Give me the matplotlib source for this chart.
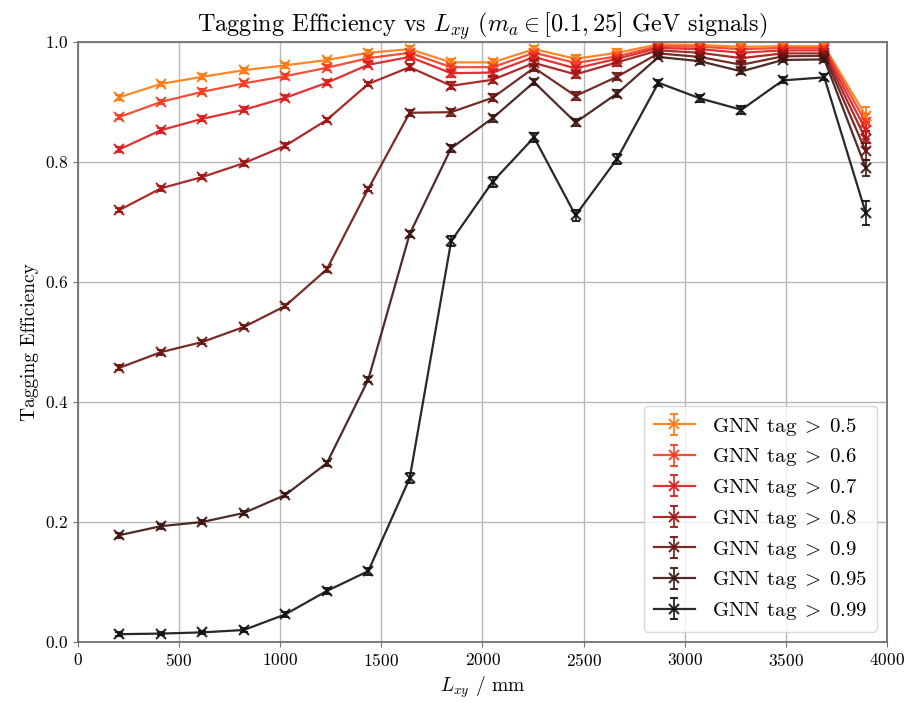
import numpy as np
import matplotlib
matplotlib.use('Agg')
import matplotlib.pyplot as plt

plt.rcParams['font.family'] = ['cmr10', 'DejaVu Serif']
plt.rcParams['mathtext.fontset'] = 'cm'
plt.rcParams['axes.formatter.use_mathtext'] = True

# ── data ────────────────────────────────────────────────────────────────────
lxy = [205, 410, 615, 820, 1025, 1230, 1435, 1640, 1845, 2050,
       2255, 2460, 2665, 2870, 3075, 3280, 3485, 3690, 3895]

cuts = ['0.5', '0.6', '0.7', '0.8', '0.9', '0.95', '0.99']
labels = [r'GNN tag$\;>\;$' + c for c in cuts]

eff_05  = [0.908, 0.930, 0.942, 0.953, 0.961, 0.970, 0.982, 0.988, 0.966, 0.966,
           0.988, 0.972, 0.982, 0.996, 0.995, 0.992, 0.993, 0.993, 0.877]
eff_06  = [0.875, 0.900, 0.917, 0.931, 0.943, 0.957, 0.973, 0.982, 0.958, 0.958,
           0.982, 0.965, 0.976, 0.993, 0.992, 0.988, 0.990, 0.990, 0.866]
eff_07  = [0.821, 0.853, 0.872, 0.887, 0.907, 0.932, 0.962, 0.975, 0.948, 0.949,
           0.975, 0.956, 0.972, 0.990, 0.988, 0.982, 0.986, 0.986, 0.853]
eff_08  = [0.720, 0.756, 0.775, 0.798, 0.827, 0.870, 0.930, 0.958, 0.927, 0.937,
           0.965, 0.946, 0.966, 0.986, 0.982, 0.973, 0.981, 0.981, 0.838]
eff_09  = [0.457, 0.483, 0.500, 0.525, 0.560, 0.621, 0.755, 0.882, 0.883, 0.907,
           0.957, 0.910, 0.942, 0.981, 0.975, 0.962, 0.976, 0.977, 0.818]
eff_095 = [0.178, 0.193, 0.200, 0.215, 0.245, 0.298, 0.437, 0.680, 0.823, 0.873,
           0.933, 0.866, 0.914, 0.975, 0.968, 0.951, 0.970, 0.971, 0.790]
eff_099 = [0.013, 0.014, 0.016, 0.020, 0.046, 0.085, 0.118, 0.273, 0.668, 0.767,
           0.841, 0.711, 0.805, 0.932, 0.906, 0.887, 0.936, 0.941, 0.715]

# statistical uncertainties (small everywhere except the last bin)
err_main = [0.004, 0.004, 0.004, 0.004, 0.004, 0.004, 0.004, 0.005, 0.006, 0.006,
            0.005, 0.006, 0.006, 0.004, 0.004, 0.005, 0.004, 0.004, 0.014]
err_tight = [0.003, 0.003, 0.003, 0.003, 0.004, 0.005, 0.006, 0.008, 0.008, 0.008,
             0.007, 0.009, 0.008, 0.005, 0.006, 0.007, 0.005, 0.005, 0.020]

series = [eff_05, eff_06, eff_07, eff_08, eff_09, eff_095, eff_099]
errors = [err_main, err_main, err_main, err_main, err_main, err_main, err_tight]
colors = ['#ff7a10', '#f83a22', '#dc1c1c', '#a01414', '#681510', '#3a1512', '#111111']

# ── plot ────────────────────────────────────────────────────────────────────
fig = plt.figure(figsize=(9.09, 7.03), dpi=100)
ax = fig.add_axes([0.0858, 0.0868, 0.8900, 0.8535])

for y, e, c, lbl in zip(series, errors, colors, labels):
    ax.errorbar(lxy, y, yerr=e, color=c, marker='x', ms=7, mew=1.5, lw=1.6,
                capsize=3, elinewidth=1.3, alpha=0.9, label=lbl)

ax.set_xlim(0, 4000)
ax.set_ylim(0, 1.0)
ax.set_xticks(np.arange(0, 4001, 500))
ax.set_yticks(np.arange(0, 1.01, 0.2))
ax.grid(True, color='#b8b8b8', lw=1)
ax.set_axisbelow(True)
for s in ax.spines.values():
    s.set_color('#707070')
    s.set_linewidth(1.3)
ax.tick_params(labelsize=12.5, color='#707070')

ax.set_title(r'Tagging Efficiency vs $L_{xy}$ ($m_a \in [0.1, 25]$ GeV signals)',
             fontsize=17.5, pad=5)
ax.set_xlabel(r'$L_{xy}$ / mm', fontsize=14)
ax.set_ylabel('Tagging Efficiency', fontsize=14)

leg = ax.legend(loc='lower right', fontsize=15, framealpha=0.8,
                handlelength=2.0, borderpad=0.45, labelspacing=0.42,
                borderaxespad=0.5)
leg.get_frame().set_edgecolor('#d0d0d0')

fig.savefig('out.png', dpi=100)
